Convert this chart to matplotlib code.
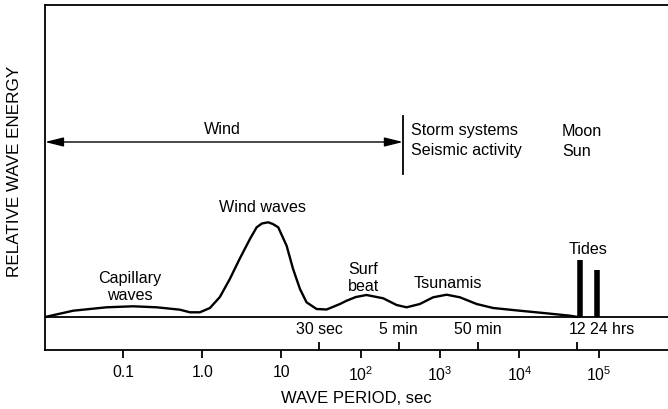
import matplotlib.pyplot as plt

plt.rcParams['font.family'] = ['Liberation Sans', 'DejaVu Sans']
plt.rcParams['mathtext.fontset'] = 'custom'
plt.rcParams['mathtext.rm'] = 'Liberation Sans'

# wave period (s) and relative energy
period = [0.0104, 0.0236, 0.0622, 0.134, 0.266, 0.524, 0.70, 0.935, 1.25, 1.67,
          2.23, 2.96, 4.00, 4.86, 5.66, 6.79, 7.79, 9.09, 11.6, 14.0,
          17.1, 20.7, 27.7, 37.1, 54.6, 66.3, 86.8, 118, 192, 283,
          378, 556, 818, 1210, 1780, 2890, 4670, 10100, 22000, 43400, 54700]
energy = [0, 6.3, 9.7, 10.7, 9.7, 7.3, 4.7, 4.7, 9, 20,
          38, 58, 78, 89.7, 93.5, 94.7, 93, 89.7, 71.3, 48,
          28, 14.7, 8, 7.5, 13, 16.3, 20, 22, 18.7, 12,
          9.7, 13, 19.7, 22.3, 19.7, 13, 9, 6.3, 3.7, 1.3, 0]

tide_period = [58000, 94800]
tide_energy = [57, 47]

decades = [0.1, 1, 10, 100, 1000, 1e4, 1e5]
decade_labels = ['0.1', '1.0', '10', r'$\mathregular{10^2}$', r'$\mathregular{10^3}$',
                 r'$\mathregular{10^4}$', r'$\mathregular{10^5}$']
time_marks = [30, 300, 3000, 54000, 1e5]

fig = plt.figure(figsize=(6.68, 4.10), dpi=100)
ax = fig.add_axes([45 / 668, 59 / 410, 1 - 45 / 668, 345 / 410])
ax.set_xscale('log')
ax.set_xlim(0.0104, 7.5e5)
ax.set_ylim(-33, 312)

ax.plot(period, energy, color='black', lw=1.7, solid_joinstyle='round', solid_capstyle='round')
ax.vlines(tide_period, 0, tide_energy, color='black', lw=4)
ax.axhline(0, color='black', lw=1.3)

for s in ['left', 'top', 'bottom']:
    ax.spines[s].set_linewidth(1.3)
ax.spines['right'].set_visible(False)

ax.set_yticks([])
ax.set_xticks(decades)
ax.set_xticklabels(decade_labels, fontsize=11.3)
ax.set_xticks(time_marks, minor=True)
ax.tick_params(axis='x', which='major', direction='out', length=6, width=1.3, pad=4)
ax.tick_params(axis='x', which='minor', direction='in', length=6, width=1.3, labelbottom=False)

ax.set_xlabel('WAVE PERIOD, sec', fontsize=12, labelpad=5)
ax.set_ylabel('RELATIVE WAVE ENERGY', fontsize=12.3)
ax.yaxis.set_label_coords(-0.037, 0.52)

# time labels above the period axis
fs = 11.4
ax.text(30, -12, '30 sec', ha='center', va='center', fontsize=fs)
ax.text(300, -12, '5 min', ha='center', va='center', fontsize=fs)
ax.text(3000, -12, '50 min', ha='center', va='center', fontsize=fs)
ax.text(54000, -12, '12', ha='center', va='center', fontsize=fs)
ax.text(77400, -12, '24 hrs', ha='left', va='center', fontsize=fs)

# forcing ranges
ax.annotate('', xy=(0.0104, 175), xytext=(340, 175),
            arrowprops=dict(arrowstyle='<|-|>,head_length=0.8,head_width=0.2',
                            color='black', lw=1.0, mutation_scale=14,
                            shrinkA=0, shrinkB=0))
ax.plot([340, 340], [143, 201], color='black', lw=1.3)
fa = 11.6
ax.text(1.77, 188, 'Wind', ha='center', va='center', fontsize=fa)
ax.text(429, 187, 'Storm systems', ha='left', va='center', fontsize=fa)
ax.text(429, 167, 'Seismic activity', ha='left', va='center', fontsize=fa)
ax.text(34400, 187, 'Moon', ha='left', va='center', fontsize=fa)
ax.text(34400, 167, 'Sun', ha='left', va='center', fontsize=fa)

# wave type labels
ax.text(0.122, 31, 'Capillary\nwaves', ha='center', va='center', fontsize=fa, linespacing=1.1)
ax.text(5.8, 110, 'Wind waves', ha='center', va='center', fontsize=fa)
ax.text(107, 40, 'Surf\nbeat', ha='center', va='center', fontsize=fa, linespacing=1.1)
ax.text(1250, 35, 'Tsunamis', ha='center', va='center', fontsize=fa)
ax.text(73100, 69, 'Tides', ha='center', va='center', fontsize=fa)

fig.savefig('out.png', dpi=100)
